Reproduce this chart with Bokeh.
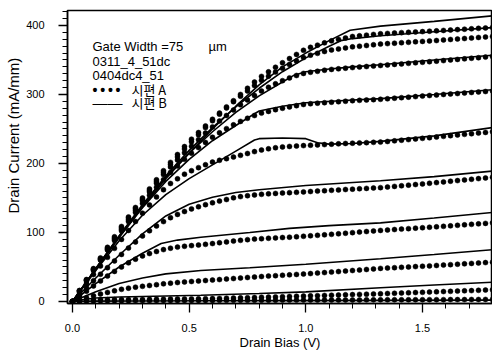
import numpy as np
from bokeh.plotting import figure
from bokeh.models import Range1d, Label, FixedTicker, Title
from bokeh.embed import file_html
from bokeh.resources import INLINE

# ---------------- data ----------------
# Sample A (dotted): drain current (mA/mm) sampled every STEP_A volts from 0 V
STEP_A = 0.03
A0 = [0, 0.4, 0.7, 0.9, 1.0, 1.1, 1.1, 1.2, 1.2, 1.3, 1.3, 1.3, 1.4, 1.4, 1.4, 1.5, 1.5, 1.5, 1.6, 1.6,
      1.6, 1.7, 1.7, 1.7, 1.8, 1.8, 1.8, 1.9, 1.9, 1.9, 2.0, 2.0, 2.0, 2.1, 2.1, 2.1, 2.2, 2.2, 2.2, 2.3,
      2.3, 2.3, 2.4, 2.4, 2.4, 2.5, 2.5, 2.5, 2.6, 2.6, 2.6, 2.7, 2.7, 2.7, 2.8, 2.8, 2.8, 2.9, 2.9, 3.0, 3.0]
A1 = [0, 1.2, 2.0, 2.4, 2.6, 2.7, 2.8, 2.8, 2.9, 3.0, 3.0, 3.1, 3.3, 3.4, 3.5, 3.6, 3.7, 3.8, 3.9, 4.1,
      4.3, 4.5, 4.8, 5.0, 5.3, 5.5, 5.8, 6.1, 6.4, 6.7, 7.0, 7.3, 7.6, 7.9, 8.2, 8.5, 8.8, 9.1, 9.4, 9.7,
      10.0, 10.3, 10.6, 10.9, 11.2, 11.6, 11.9, 12.3, 12.6, 13.0, 13.3, 13.7, 14.0, 14.4, 14.7, 15.1, 15.5,
      15.8, 16.2, 16.6, 17.0]
A2 = [0, 2.8, 5.5, 8.2, 10.8, 13.2, 15.5, 17.6, 19.3, 20.8, 22.0, 23.2, 24.4, 25.6, 26.6, 27.5, 28.3, 29.0,
      29.7, 30.4, 31.1, 31.8, 32.6, 33.3, 34.0, 34.8, 35.5, 36.2, 36.8, 37.4, 38.0, 38.6, 39.2, 39.8, 40.5,
      41.2, 41.9, 42.6, 43.4, 44.1, 44.9, 45.6, 46.4, 47.2, 48.0, 48.5, 49.0, 49.5, 50.0, 50.6, 51.1, 51.6,
      52.2, 52.8, 53.4, 54.0, 54.6, 55.2, 55.8, 56.4, 57.0]
A3 = [0, 7.5, 15, 22.5, 29.8, 36.8, 43.6, 50, 56, 61.3, 66, 69.5, 72.5, 75.2, 77.2, 78.8, 80.0, 81.0, 81.8,
      82.8, 84.0, 85.2, 86.4, 87.5, 88.6, 89.6, 90.4, 91.0, 91.6, 92.2, 92.7, 93.2, 93.8, 94.5, 95.2, 95.9,
      96.6, 97.3, 98.1, 98.9, 99.8, 100.6, 101.4, 102.2, 103.0, 103.6, 104.3, 104.9, 105.6, 106.3, 106.9,
      107.6, 108.2, 108.9, 109.6, 110.4, 111.1, 111.8, 112.5, 113.2, 114.0]
A4 = [0, 10, 20, 30, 39.5, 49, 58.8, 68.2, 77.4, 86.2, 95, 102.5, 109.5, 115.8, 121.5, 126.2, 130.4, 134.2,
      137.3, 140.3, 143.0, 145.5, 147.8, 150.2, 152.0, 153.3, 154.4, 155.3, 156.0, 156.6, 157.2, 157.7,
      158.2, 158.8, 159.4, 160.0, 160.5, 161.1, 161.7, 162.3, 162.8, 163.4, 163.9, 164.5, 165.0, 165.9,
      166.8, 167.7, 168.6, 169.5, 170.4, 171.3, 172.3, 173.3, 174.3, 175.2, 176.2, 177.1, 178.1, 179.0, 180.0]
A5 = [0, 13, 26, 39, 51.5, 64, 77, 90, 103, 116, 128, 140, 151.5, 162, 171, 177.8, 184.5, 189.5, 194, 198.2,
      202.0, 204.6, 207, 209.3, 211.8, 214.5, 217.2, 219.5, 221.3, 222.8, 224.0, 224.7, 225.3, 225.9, 226.4,
      226.9, 227.4, 228.0, 228.5, 229.0, 229.4, 229.8, 230.2, 230.6, 231.0, 231.9, 232.8, 233.7, 234.6,
      235.5, 236.4, 237.3, 238.3, 239.3, 240.3, 241.3, 242.2, 243.1, 244.1, 245.0, 246.0]
A6 = [0, 15, 30, 45, 60, 74.5, 88.5, 102.5, 116, 129, 142, 154, 165.5, 176.5, 187, 196.5, 206, 215, 223,
      230.5, 238, 244.5, 250.5, 256, 261, 265.5, 269.5, 273, 275.5, 278, 280, 282, 283.8, 285.5, 286.6,
      287.4, 288.1, 288.8, 289.5, 290.2, 291.0, 291.5, 292.0, 292.5, 293.0, 293.8, 294.6, 295.4, 296.1,
      296.9, 297.7, 298.5, 299.2, 300.0, 300.7, 301.4, 302.1, 302.9, 303.6, 304.3, 305.0]
A7 = [0, 15.3, 30.6, 46, 61, 75.8, 90.5, 104.8, 118.5, 132, 146, 158.8, 171.5, 184, 195, 205, 215.5, 225,
      234.5, 244, 253, 261.5, 269.5, 277.5, 285, 292, 298.5, 305, 310.5, 315.5, 320, 324, 327.5, 330.5,
      332.2, 333.6, 335.1, 336.3, 337.2, 338.1, 339.0, 339.8, 340.5, 341.2, 342.0, 342.8, 343.6, 344.3,
      345.1, 345.9, 346.7, 347.5, 348.3, 349.1, 350.0, 350.8, 351.6, 352.5, 353.3, 354.2, 355.0]
A8 = [0, 15.6, 31.2, 46.8, 62, 77, 92, 106.8, 121, 134.5, 148, 161, 174, 187, 198.5, 209.5, 221, 231.5,
      241.5, 252, 262, 271.5, 280.5, 289.5, 297.5, 305, 313, 320.5, 326.5, 332.5, 338, 343.5, 348.5, 353.5,
      357, 359.6, 362.3, 364.5, 366, 367.5, 369, 370, 371, 372, 373, 373.7, 374.3, 375, 375.6, 376.3, 376.9,
      377.6, 378.2, 379, 379.7, 380.4, 381.1, 381.8, 382.6, 383.3, 384]
A9 = [0, 15.9, 31.8, 47.7, 63.2, 78.5, 93.8, 108.7, 122.5, 136.2, 150, 163.2, 176.4, 189.6, 201.6, 213,
      224.5, 235.2, 244.8, 254.4, 264, 273, 282, 291, 300, 309, 318, 326.2, 332.8, 339.4, 346, 352, 358, 364,
      368.3, 371.5, 374.8, 377.7, 379.8, 381.9, 384, 385, 386, 387, 388, 388.5, 389.1, 389.6, 390.1, 390.6,
      391.1, 391.7, 392.2, 392.8, 393.4, 394, 394.6, 395.2, 395.8, 396.4, 397]
SAMPLE_A = [A0, A1, A2, A3, A4, A5, A6, A7, A8, A9]

# Sample B (solid): (bias V, current mA/mm) pairs per gate-bias curve
B0_V = [0, 0.1, 0.3, 0.6, 1.0, 1.4, 1.8]
B0_I = [0, 0.5, 0.8, 1.0, 1.3, 1.6, 2.0]
B1_V = [0, 0.05, 0.1, 0.2, 0.4, 0.55, 0.8, 1.0, 1.32, 1.55, 1.8]
B1_I = [0, 3, 5, 6.5, 8, 9, 11.5, 14, 20, 24, 28]
B2_V = [0, 0.1, 0.2, 0.3, 0.4, 0.55, 0.76, 1.0, 1.32, 1.55, 1.8]
B2_I = [0, 14, 26, 34, 40, 45, 49, 54, 62, 68, 75]
B3_V = [0, 0.1, 0.2, 0.3, 0.38, 0.45, 0.55, 0.76, 0.93, 1.1, 1.32, 1.55, 1.8]
B3_I = [0, 26, 50, 70, 84, 89, 93, 100, 106, 110, 114, 121, 129]
B4_V = [0, 0.1, 0.2, 0.3, 0.4, 0.5, 0.6, 0.7, 0.8, 1.0, 1.32, 1.55, 1.8]
B4_I = [0, 34, 67, 98, 124, 141, 151, 158, 162, 168, 175, 181, 189]
B5_V = [0, 0.1, 0.2, 0.3, 0.4, 0.5, 0.6, 0.7, 0.78, 0.8, 0.9, 1.0, 1.05, 1.1, 1.2, 1.32, 1.55, 1.8]
B5_I = [0, 45, 88, 125, 155, 178, 198, 218, 234, 236, 237, 236, 230, 228, 229, 232, 240, 252]
B6_V = [0, 0.1, 0.2, 0.3, 0.4, 0.5, 0.6, 0.7, 0.78, 0.8, 0.9, 1.0, 1.2, 1.32, 1.55, 1.8]
B6_I = [0, 47, 93, 136, 174, 206, 233, 255, 272, 276, 283, 288, 292, 294, 300, 307]
B7_V = [0, 0.1, 0.2, 0.3, 0.4, 0.5, 0.6, 0.7, 0.8, 0.9, 0.95, 1.0, 1.1, 1.2, 1.32, 1.55, 1.8]
B7_I = [0, 48, 95, 140, 180, 215, 246, 274, 298, 318, 328, 333, 337, 340, 343, 350, 357]
B8_V = [0, 0.1, 0.2, 0.3, 0.4, 0.5, 0.6, 0.7, 0.8, 0.9, 1.0, 1.1, 1.15, 1.2, 1.32, 1.55, 1.8]
B8_I = [0, 48, 95, 140, 182, 219, 252, 282, 309, 333, 353, 370, 378, 381, 385, 391, 397]
B9_V = [0, 0.1, 0.2, 0.3, 0.4, 0.5, 0.6, 0.7, 0.8, 0.9, 1.0, 1.1, 1.19, 1.32, 1.55, 1.8]
B9_I = [0, 47, 93, 137, 178, 215, 250, 283, 314, 340, 360, 378, 393, 399, 406, 414]
SAMPLE_B = [(B0_V, B0_I), (B1_V, B1_I), (B2_V, B2_I), (B3_V, B3_I), (B4_V, B4_I),
            (B5_V, B5_I), (B6_V, B6_I), (B7_V, B7_I), (B8_V, B8_I), (B9_V, B9_I)]

X_TICKS = [0.0, 0.5, 1.0, 1.5]
X_TICK_LABELS = ["0.0", "0.5", "1.0", "1.5"]
Y_TICKS = [0, 100, 200, 300, 400]
X_LABEL = "Drain Bias (V)"
Y_LABEL = "Drain Current (mA/mm)"
NOTE_LINES = ["Gate Width =75", "0311_4_51dc", "0404dc4_51"]
UNIT = "µm"
LEG_A = "시편 A"
LEG_B = "시편 B"

# ---------------- figure ----------------
FONT = "Liberation Sans"
p = figure(width=492, height=354, output_backend="svg", toolbar_location=None,
           x_range=Range1d(-0.0214, 1.80), y_range=Range1d(-2.9, 421.7),
           min_border_left=67, min_border_right=0, min_border_top=10, min_border_bottom=51)
p.background_fill_color = "white"
p.border_fill_color = "white"
p.outline_line_color = "black"
p.outline_line_width = 1.5
p.grid.visible = False

for (bv, bi) in SAMPLE_B:
    p.line(bv, bi, line_color="black", line_width=1.6)
for a in SAMPLE_A:
    v = np.arange(len(a)) * STEP_A
    p.scatter(v, a, size=5, fill_color="black", line_color="black", line_width=0.5)

xa = p.xaxis[0]
xa.ticker = FixedTicker(ticks=X_TICKS, minor_ticks=list(np.round(np.arange(0, 1.81, 0.1), 2)))
xa.major_label_overrides = {t: s for t, s in zip(X_TICKS, X_TICK_LABELS)}
xa.axis_label = X_LABEL
ya = p.yaxis[0]
ya.ticker = FixedTicker(ticks=Y_TICKS, minor_ticks=list(range(0, 421, 10)))
for ax in (xa, ya):
    ax.axis_line_color = "black"
    ax.axis_line_width = 1.5
    ax.major_tick_in = 0
    ax.minor_tick_in = 0
    ax.major_tick_out = 9
    ax.minor_tick_out = 5
    ax.major_tick_line_width = 1.3
    ax.minor_tick_line_width = 1
    ax.major_label_text_font = FONT
    ax.major_label_text_font_size = "11px"
    ax.major_label_text_color = "black"
    ax.axis_label_text_font = FONT
    ax.axis_label_text_font_size = "13px"
    ax.axis_label_text_font_style = "normal"
    ax.axis_label_text_color = "black"
xa.major_label_standoff = 11
xa.axis_label_standoff = 0
ya.major_label_standoff = 14

# y-axis title, placed higher than centre as in the original
ytitle = Title(text=Y_LABEL, align="left", offset=90, standoff=3,
               text_font=FONT, text_font_size="15px", text_font_style="normal", text_color="black")
p.add_layout(ytitle, "left")

# annotation block (positions in data units)
nx = 0.0857
ny = [369.6, 347.8, 327.5]
for txt, yy in zip(NOTE_LINES, ny):
    p.add_layout(Label(x=nx, y=yy, text=txt, text_font=FONT, text_font_size="13px",
                       text_baseline="alphabetic", text_color="black"))
p.add_layout(Label(x=0.583, y=369.6, text=UNIT, text_font=FONT, text_font_size="13px",
                   text_baseline="alphabetic", text_color="black"))
p.add_layout(Label(x=nx, y=307.2, text="\u2009".join(["•"] * 4), text_font=FONT, text_font_size="14px",
                   text_font_style="bold", text_baseline="alphabetic", text_color="black"))
p.add_layout(Label(x=nx, y=289.0, text="——", text_font=FONT, text_font_size="15px",
                   text_baseline="alphabetic", text_color="black"))
p.add_layout(Label(x=0.253, y=307.2, text=LEG_A, text_font="Noto Sans CJK KR", text_font_size="13px",
                   text_baseline="alphabetic", text_color="black"))
p.add_layout(Label(x=0.253, y=288.4, text=LEG_B, text_font="Noto Sans CJK KR", text_font_size="13px",
                   text_baseline="alphabetic", text_color="black"))

open("out.html", "w").write(file_html(p, INLINE))
